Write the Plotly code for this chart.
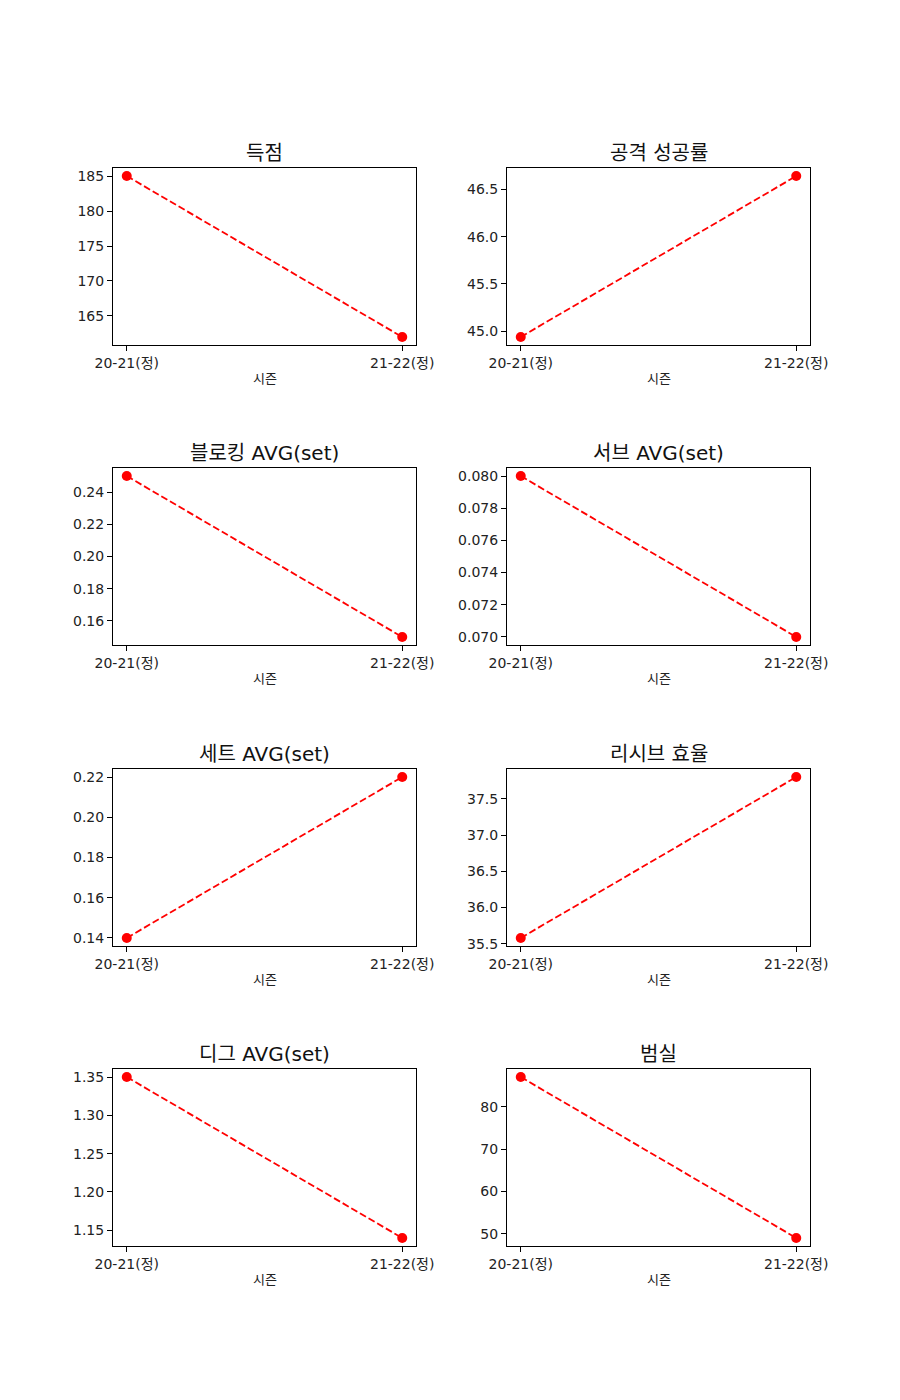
import plotly.graph_objects as go

seasons = ["20-21(정)", "21-22(정)"]
titles = ["득점", "공격 성공률", "블로킹 AVG(set)", "서브 AVG(set)",
          "세트 AVG(set)", "리시브 효율", "디그 AVG(set)", "범실"]
score = [185, 162]
attack_rate = [44.94, 46.64]
block_avg = [0.25, 0.15]
serve_avg = [0.08, 0.07]
set_avg = [0.14, 0.22]
receive_eff = [35.58, 37.80]
dig_avg = [1.35, 1.14]
errors = [87, 49]
series = [score, attack_rate, block_avg, serve_avg, set_avg, receive_eff, dig_avg, errors]
xlabel = "시즌"

# axis tick settings (style)
dticks = [5, 0.5, 0.02, 0.002, 0.02, 0.5, 0.05, 10]
fmts = ["d", ".1f", ".2f", ".3f", ".2f", ".1f", ".2f", "d"]

W, H = 900, 1400
col_x = [(113, 416), (507, 810)]
row_y = [(168, 345), (468, 645), (769, 946), (1069, 1246)]
FONT = "DejaVu Sans, Noto Sans CJK KR"

fig = go.Figure()
annotations = []
for i, (vals, title) in enumerate(zip(series, titles)):
    r, c = divmod(i, 2)
    n = i + 1
    xa = "x" if n == 1 else f"x{n}"
    ya = "y" if n == 1 else f"y{n}"
    fig.add_trace(go.Scatter(
        x=seasons, y=vals, xaxis=xa, yaxis=ya, mode="lines+markers",
        line=dict(color="red", width=1.8, dash="7px,3px"),
        marker=dict(color="red", size=10), showlegend=False))
    lo, hi = min(vals), max(vals)
    pad = 0.05 * (hi - lo)
    x0, x1 = col_x[c]
    y0, y1 = row_y[r]
    axis_common = dict(showline=True, linecolor="black", linewidth=1, mirror=True,
                       ticks="outside", ticklen=5, tickwidth=1, tickcolor="black",
                       showgrid=False, zeroline=False, automargin=False,
                       tickfont=dict(family=FONT, size=14, color="#222"))
    xkey = "xaxis" if n == 1 else f"xaxis{n}"
    ykey = "yaxis" if n == 1 else f"yaxis{n}"
    fig.update_layout(**{
        xkey: dict(domain=[x0 / W, x1 / W], anchor=ya, type="category",
                   range=[-0.05, 1.05], **axis_common),
        ykey: dict(domain=[1 - y1 / H, 1 - y0 / H], anchor=xa,
                   range=[lo - pad, hi + pad], dtick=dticks[i], tick0=0,
                   tickformat=fmts[i], **axis_common),
    })
    cx = (x0 + x1) / 2 / W
    annotations.append(dict(text=title, x=cx, y=1 - y0 / H, xref="paper", yref="paper",
                            xanchor="center", yanchor="bottom", yshift=1, showarrow=False,
                            font=dict(family=FONT, size=20, color="#111")))
    annotations.append(dict(text=xlabel, x=cx, y=1 - y1 / H, xref="paper", yref="paper",
                            xanchor="center", yanchor="top", yshift=-24, showarrow=False,
                            font=dict(family=FONT, size=13, color="#222")))

fig.update_layout(width=W, height=H, margin=dict(l=0, r=0, t=0, b=0),
                  paper_bgcolor="white", plot_bgcolor="white",
                  annotations=annotations)
fig.write_html("out.html")
